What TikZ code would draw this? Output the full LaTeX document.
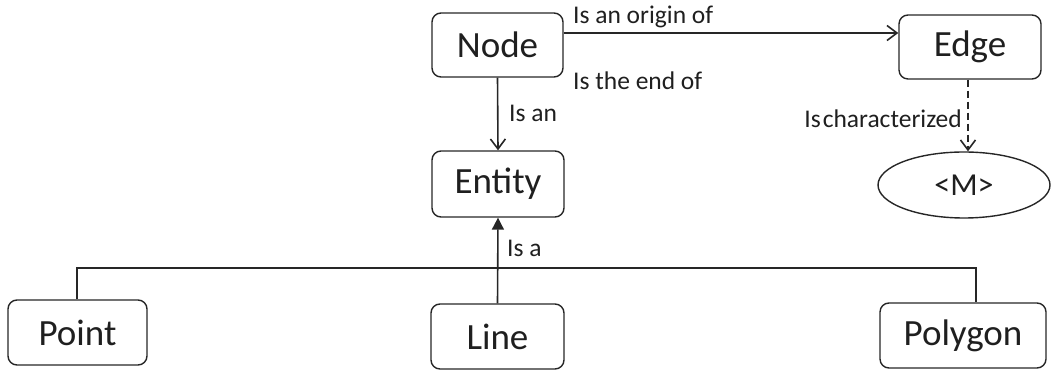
\documentclass[tikz,border=0pt]{standalone}
\usepackage{fontspec}
\setmainfont{Carlito}
\usetikzlibrary{arrows.meta,shapes.geometric}
\begin{document}
\begin{tikzpicture}[x=1pt,y=1pt,
  box/.style={draw=black!85,line width=1.4pt,rounded corners=9pt,inner sep=0pt,font=\fontsize{37}{40}\selectfont,text=black!88},
  oval/.style={draw=black!85,line width=1.4pt,ellipse,inner sep=0pt,font=\fontsize{32}{34}\selectfont,text=black!88},
  lbl/.style={inner sep=0pt,font=\fontsize{25.5}{28}\selectfont,text=black!88},
  conn/.style={draw=black!85,line width=1.6pt},
  openarr/.style={-{Straight Barb[length=10pt,width=15pt,line width=1.6pt]}},
  fillarr/.style={-{Triangle[length=12pt,width=12pt]}}
]
\useasboundingbox (0,0) rectangle (1054,371);
\node[box,minimum width=131pt,minimum height=64pt] (node) at (497.5,326) {Node};
\node[box,minimum width=142pt,minimum height=64pt] (edge) at (970,324) {Edge};
\node[box,minimum width=132pt,minimum height=66pt] (entity) at (498,187) {Entity};
\node[oval,minimum width=172pt,minimum height=66pt] (m) at (964,186) {<M>};
\node[box,minimum width=139pt,minimum height=65pt] (point) at (77.5,38.5) {Point};
\node[box,minimum width=133pt,minimum height=65pt] (line) at (497.5,34.5) {Line};
\node[box,minimum width=166pt,minimum height=65pt] (polygon) at (963,35.5) {Polygon};
\coordinate (busL) at (77,103);
\coordinate (busR) at (976,103);
\coordinate (origin) at ([yshift=12pt]node.east);
\draw[conn,openarr] (origin) -- (origin -| edge.west);
\draw[conn,openarr] (node.south) -- (entity.north);
\draw[conn,dash pattern=on 7pt off 4pt,openarr] ([xshift=-2pt]edge.south) -- ([xshift=-2pt]edge.south |- m.north);
\draw[conn,fillarr] (line.north) -- (entity.south);
\draw[conn,line width=1.3pt] (point.north -| busL) -- (busL) -- (busR) -- (busR |- polygon.north);
\node[lbl,anchor=base west] (l1) at (573,347) {Is an origin of};
\node[lbl,anchor=base west] (l2) at (573,281) {Is the end of};
\node[lbl,anchor=base west] (l3) at (509,249) {Is an};
\node[lbl,anchor=base east] (l4) at (962,243) {Is\hspace{2pt}characterized};
\node[lbl,anchor=base west] (l5) at (507,114) {Is a};
\end{tikzpicture}
\end{document}
